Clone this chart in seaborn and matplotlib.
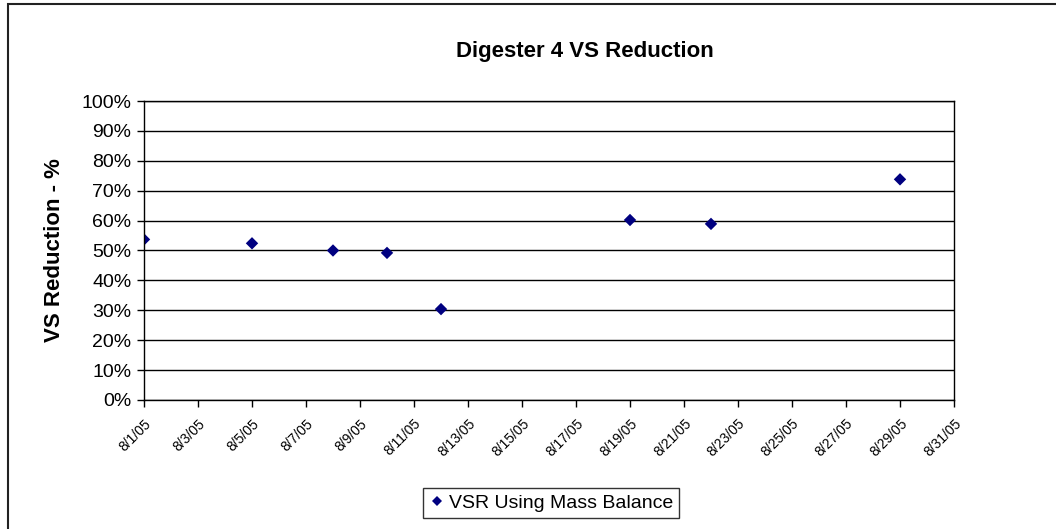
import matplotlib
matplotlib.use("Agg")
import matplotlib.pyplot as plt
import matplotlib.dates as mdates
from matplotlib.ticker import FuncFormatter, MultipleLocator
from matplotlib.patches import Rectangle
import seaborn as sns
import pandas as pd

dates = ["2005-08-01", "2005-08-05", "2005-08-08", "2005-08-10",
         "2005-08-12", "2005-08-19", "2005-08-22", "2005-08-29"]
vsr = [0.537, 0.524, 0.500, 0.492, 0.304, 0.602, 0.589, 0.738]
series_name = "VSR Using Mass Balance"

df = pd.DataFrame({"Date": pd.to_datetime(dates), "VSR": vsr, "Series": series_name})

sns.set_style("white")
plt.rcParams["font.family"] = ["Liberation Sans", "DejaVu Sans"]
plt.rcParams.update({"text.color": "black", "axes.labelcolor": "black",
                     "xtick.color": "black", "ytick.color": "black"})

fig = plt.figure(figsize=(10.56, 5.29), dpi=100)
W, H = 1056, 529
ax = fig.add_axes([144 / W, 1 - 400 / H, (954 - 144) / W, (400 - 101) / H])

sns.scatterplot(data=df, x="Date", y="VSR", hue="Series", palette=["#000080"],
                marker="D", s=40, edgecolor="#000080", linewidth=0, ax=ax)

ax.set_ylim(0, 1)
ax.set_xlim(pd.Timestamp("2005-08-01"), pd.Timestamp("2005-08-31"))
ax.yaxis.set_major_locator(MultipleLocator(0.1))
ax.yaxis.set_major_formatter(FuncFormatter(lambda v, p: f"{v * 100:.0f}%"))
ax.xaxis.set_major_locator(mdates.DayLocator(interval=2))
ax.xaxis.set_major_formatter(FuncFormatter(
    lambda v, p: (lambda d: f"{d.month}/{d.day}/{d:%y}")(mdates.num2date(v))))

ax.grid(axis="y", color="black", linewidth=1)
ax.set_axisbelow(True)
for s in ax.spines.values():
    s.set_color("black")
    s.set_linewidth(1)

ax.tick_params(axis="y", direction="out", length=5, width=1, color="black",
               labelsize=14, pad=4, left=True, labelcolor="black")
ax.tick_params(axis="x", direction="out", length=5, width=1, color="black",
               labelsize=10, pad=7, bottom=True, labelcolor="black")
for lbl in ax.get_xticklabels():
    lbl.set_rotation(45)
    lbl.set_ha("right")
    lbl.set_rotation_mode("anchor")

ax.set_xlabel("")
ax.set_ylabel("VS Reduction - %", fontsize=16, fontweight="bold", labelpad=12, color="black")
fig.text(585 / W, 1 - 52 / H, "Digester 4 VS Reduction", ha="center", va="center",
         fontsize=16, fontweight="bold", color="black")

handles, labels = ax.get_legend_handles_labels()
ax.legend(handles, labels, loc="center", bbox_to_anchor=(551 / W, 1 - 503 / H),
          bbox_transform=fig.transFigure, fontsize=14, frameon=True, fancybox=False,
          edgecolor="black", handletextpad=0.2, handlelength=0.8, borderpad=0.3,
          markerscale=0.8, labelcolor="black")
ax.get_legend().get_frame().set_linewidth(1)

fig.patches.append(Rectangle((8 / W, -0.1), 1.2, 1 - 4 / H + 0.1, transform=fig.transFigure,
                             fill=False, edgecolor="#222222", linewidth=1.5))

fig.savefig("out.png", dpi=100)
